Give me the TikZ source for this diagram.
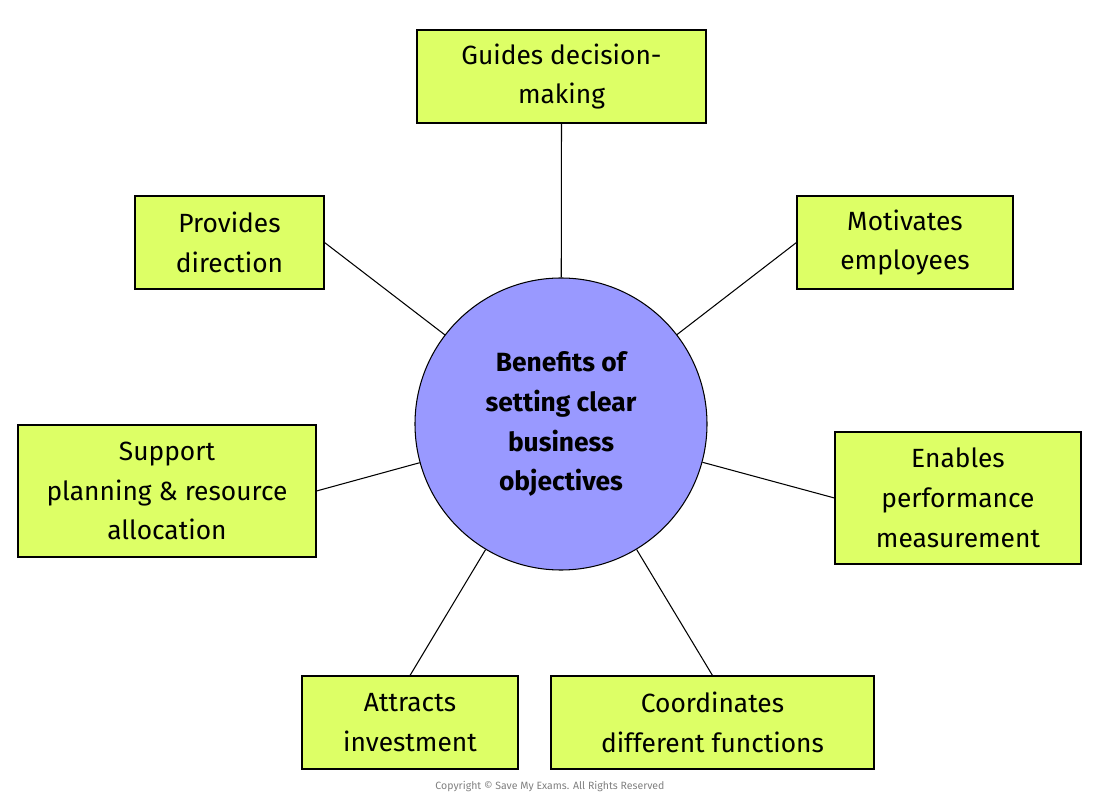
\documentclass[tikz,border=0pt]{standalone}
\usepackage{fontspec}
\setmainfont{Fira Sans}
\begin{document}
\begin{tikzpicture}[x=0.02cm,y=-0.02cm,
  box/.style={draw=black,fill=boxc,line width=0.6pt,align=center,inner sep=0pt,font=\fontsize{15}{22.7}\selectfont},
  link/.style={draw=black,line width=0.6pt}]
\definecolor{boxc}{HTML}{DDFF66}
\definecolor{circc}{HTML}{9999FF}
\useasboundingbox (0,0) rectangle (1100,800);
\node[circle,draw=black,fill=circc,line width=0.6pt,minimum size=292*0.02cm,inner sep=0pt,align=center,font=\fontsize{15}{22.7}\selectfont\bfseries] (c) at (561,424) {Benefits of\\setting clear\\business\\objectives};
\node[box,minimum width=289*0.02cm,minimum height=93*0.02cm] (g) at (561.5,76.5) {Guides decision-\\making};
\node[box,minimum width=189*0.02cm,minimum height=93*0.02cm] (p) at (229.5,242.5) {Provides\\direction};
\node[box,minimum width=216*0.02cm,minimum height=93*0.02cm] (m) at (905,242.5) {Motivates\\employees};
\node[box,minimum width=298*0.02cm,minimum height=132*0.02cm] (s) at (167,491) {Support\\planning \& resource\\allocation};
\node[box,minimum width=246*0.02cm,minimum height=132*0.02cm] (e) at (958,498) {Enables\\performance\\measurement};
\node[box,minimum width=216*0.02cm,minimum height=93*0.02cm] (a) at (410,722.5) {Attracts\\investment};
\node[box,minimum width=323*0.02cm,minimum height=93*0.02cm] (k) at (712.5,722.5) {Coordinates\\different functions};
\draw[link] (c) -- (g.south);
\draw[link] (c) -- (p.east);
\draw[link] (c) -- (m.west);
\draw[link] (c) -- (s.east);
\draw[link] (c) -- (e.west);
\draw[link] (c) -- (a.north);
\draw[link] (c) -- (k.north);
\node[font=\fontsize{6}{7}\selectfont,text=gray] (cr) at (550,787) {Copyright © Save My Exams. All Rights Reserved};
\end{tikzpicture}
\end{document}
